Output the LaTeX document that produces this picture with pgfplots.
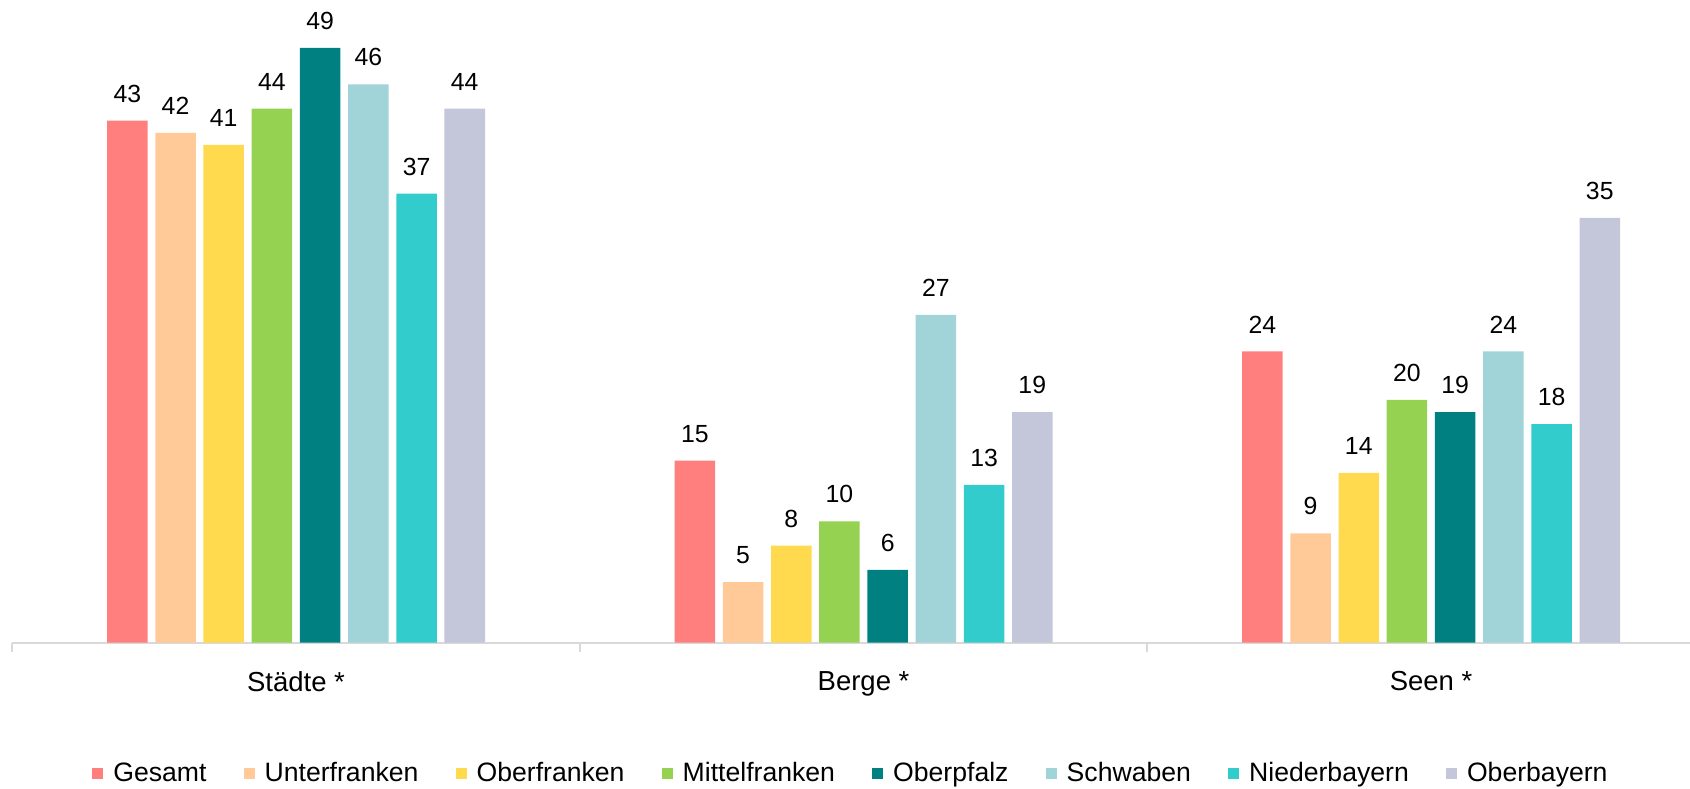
\documentclass[border=0pt]{standalone}
\usepackage{fontspec}
\setmainfont{Liberation Sans}
\usepackage{pgfplots}
\pgfplotsset{compat=1.18}
\definecolor{cGes}{HTML}{FF7F7F}
\definecolor{cUnt}{HTML}{FFCA98}
\definecolor{cObf}{HTML}{FFDA4F}
\definecolor{cMit}{HTML}{95D251}
\definecolor{cOpf}{HTML}{008080}
\definecolor{cSch}{HTML}{A0D4D8}
\definecolor{cNie}{HTML}{33CCCC}
\definecolor{cObb}{HTML}{C4C6D9}
\definecolor{axgray}{HTML}{D9D9D9}
\begin{document}
\begin{tikzpicture}
\begin{axis}[
  scale only axis,
  width=851.25pt, height=321.35pt,
  xmin=-0.5, xmax=2.5, ymin=0, ymax=52.94,
  axis y line=none,
  axis x line*=bottom,
  axis line style={draw=axgray, line width=1pt},
  xtick={0,1,2},
  xticklabels={Städte *, Berge *, Seen *},
  major tick length=0pt,
  minor xtick={-0.5,0.5,1.5,2.5},
  minor tick length=4.5pt,
  tick align=outside,
  minor tick style={draw=axgray, line width=1pt},
  xticklabel style={font=\fontsize{13.75}{16}\selectfont, yshift=-10.7pt},
  ybar=3.85pt, bar width=20.25pt,
  nodes near coords,
  nodes near coords style={font=\fontsize{12.4}{14}\selectfont, yshift=5.6pt, text=black},
  /pgf/number format/assume math mode=true,
  every axis plot post/.append style={draw=none,
    legend image code/.code={\fill[##1] (0pt,-2.75pt) rectangle (5.5pt,2.75pt);}},
  legend style={draw=none, fill=none, legend columns=-1,
    at={(0.492,-0.204)}, anchor=center,
    font=\fontsize{13.3}{16}\selectfont,
    nodes={inner sep=0pt},
    /tikz/every odd column/.append style={column sep=5pt},
    /tikz/every even column/.append style={column sep=18.6pt}},
  clip=false,
]
\addplot[fill=cGes] coordinates {(0,43) (1,15) (2,24)};
\addplot[fill=cUnt] coordinates {(0,42) (1,5) (2,9)};
\addplot[fill=cObf] coordinates {(0,41) (1,8) (2,14)};
\addplot[fill=cMit] coordinates {(0,44) (1,10) (2,20)};
\addplot[fill=cOpf] coordinates {(0,49) (1,6) (2,19)};
\addplot[fill=cSch] coordinates {(0,46) (1,27) (2,24)};
\addplot[fill=cNie] coordinates {(0,37) (1,13) (2,18)};
\addplot[fill=cObb] coordinates {(0,44) (1,19) (2,35)};
\legend{Gesamt, Unterfranken, Oberfranken, Mittelfranken, Oberpfalz, Schwaben, Niederbayern, Oberbayern}
\coordinate (bl) at (rel axis cs:-0.00722,-0.2276);
\coordinate (tr) at (rel axis cs:0.98543,1);
\end{axis}
\pgfresetboundingbox
\useasboundingbox (bl) rectangle (tr);
\end{tikzpicture}
\end{document}
